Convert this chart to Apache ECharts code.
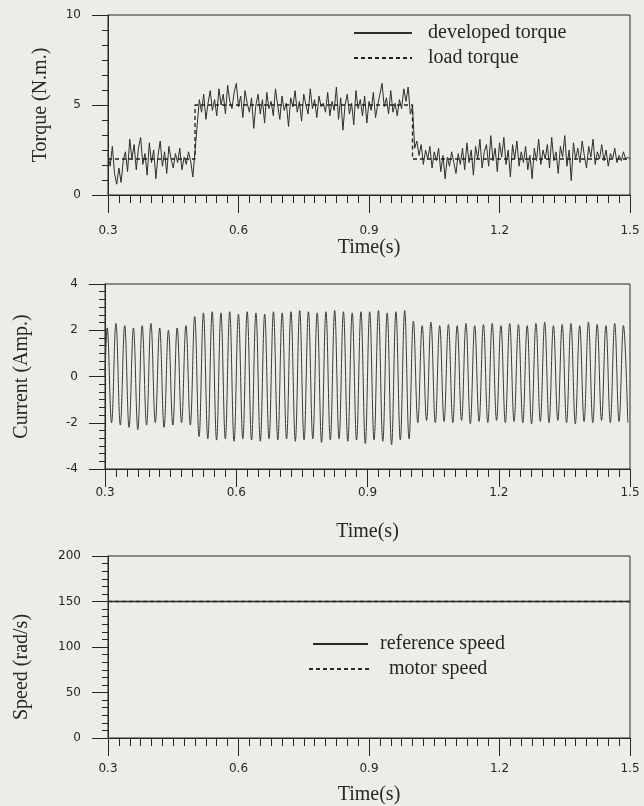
<!DOCTYPE html>
<html>
<head>
<meta charset="utf-8">
<title>Torque, current and speed</title>
<script src="https://cdn.jsdelivr.net/npm/echarts@6/dist/echarts.min.js"></script>
<style>
  html, body { margin: 0; padding: 0; background: #edece7; }
  #main { width: 644px; height: 806px; }
</style>
</head>
<body>
<div id="main"></div>
<script>
'use strict';

// time ticks shared by the three plots
var timeTicks = [0.3, 0.6, 0.9, 1.2, 1.5];

// developed torque, sampled every 0.005 s from 0.3 s to 1.5 s
var torqueStart = 0.3;
var torqueStep = 0.005;
var developedTorque = [
  // 0.300 - 0.495
  2.2, 1.6, 2.7, 1.2, 0.6, 1.5, 0.7, 1.9, 2.4, 1.3,
  3.1, 2.0, 2.8, 1.4, 2.6, 3.2, 1.7, 2.3, 1.1, 2.9,
  1.8, 2.5, 0.9, 2.2, 3.0, 1.6, 2.4, 1.2, 2.7, 2.0,
  1.5, 2.3, 1.8, 2.6, 1.4, 2.1, 1.7, 2.4, 1.9, 1.0,
  // 0.500 - 0.995
  2.4, 3.9, 5.3, 4.6, 5.6, 4.2, 5.1, 5.8, 4.7, 5.3,
  4.4, 5.9, 5.0, 5.6, 4.5, 6.1, 5.2, 4.8, 5.7, 6.2,
  4.9, 5.5, 4.3, 5.8, 5.1, 4.6, 5.4, 3.7, 5.0, 5.6,
  4.5, 5.3, 4.0, 5.7, 4.8, 5.2, 4.4, 5.9, 5.0, 4.2,
  5.5, 4.7, 5.1, 3.8, 5.4, 4.9, 5.8, 4.6, 5.2, 4.1,
  5.6, 5.0, 4.5, 5.9, 4.8, 5.3, 4.3, 5.5, 4.9, 5.1,
  4.6, 5.7, 4.4, 5.2, 4.7, 6.0, 4.2, 5.4, 3.6, 5.0,
  5.6, 4.5, 5.1, 3.9, 5.8, 4.8, 5.3, 4.4, 5.5, 4.0,
  5.2, 4.7, 5.7, 4.3, 5.0, 5.6, 6.2, 4.9, 5.4, 4.5,
  5.8, 4.6, 5.1, 4.4, 5.3, 4.8, 5.9, 5.2, 6.0, 4.5,
  // 1.000 - 1.500
  4.9, 2.6, 3.0, 2.2, 2.8, 1.7, 2.5, 2.0, 2.7, 1.5,
  2.4, 1.9, 2.6, 1.3, 2.2, 0.9, 2.1, 1.6, 2.4, 1.8,
  1.2, 2.3, 1.7, 2.6, 1.4, 2.9, 1.8, 2.5, 1.1, 2.7,
  2.0, 3.1, 1.5, 2.4, 2.8, 1.6, 3.3, 1.9, 2.6, 1.3,
  2.9, 2.1, 3.2, 1.7, 2.5, 1.0, 2.8, 2.0, 3.0, 1.6,
  2.4, 1.8, 2.7, 1.4, 2.2, 0.9, 2.6, 1.9, 3.1, 1.7,
  2.5, 2.0, 2.8, 1.5, 3.2, 1.9, 2.4, 1.2, 2.7, 2.1,
  3.3, 1.6, 2.5, 0.8, 2.9, 2.0, 2.6, 1.8, 3.0, 2.2,
  1.5, 2.7, 2.1, 3.1, 1.7, 2.4, 2.0, 2.8, 1.9, 2.5,
  1.6, 2.3, 2.0, 2.6, 1.8, 2.2, 1.9, 2.4, 2.0, 2.1,
  2.0
];

// load torque steps
var loadTime = [0.3, 0.5, 0.5, 1.0, 1.0, 1.5];
var loadTorque = [2, 2, 5, 5, 2, 2];

// phase current: one positive and one negative peak per 0.02 s cycle
var currentStart = 0.3;
var currentPeakStart = 0.305;
var currentHalfPeriod = 0.01;
var currentPeaks = [
  2.1, 2.3, 2.2, 2.1, 2.2, 2.3, 2.1, 2.0, 2.1, 2.2,
  2.6, 2.75, 2.8, 2.75, 2.8, 2.7, 2.8, 2.75, 2.7, 2.8,
  2.75, 2.8, 2.85, 2.8, 2.75, 2.8, 2.85, 2.8, 2.75, 2.8,
  2.8, 2.85, 2.75, 2.8, 2.85,
  2.4, 2.2, 2.35, 2.2, 2.25, 2.2, 2.3, 2.2, 2.25, 2.3,
  2.2, 2.3, 2.25, 2.2, 2.3, 2.35, 2.2, 2.25, 2.3, 2.2,
  2.35, 2.25, 2.2, 2.3, 2.2
];
var currentTroughs = [
  -2.0, -2.1, -2.2, -2.3, -2.1, -2.0, -2.2, -2.1, -2.0, -2.1,
  -2.6, -2.7, -2.75, -2.7, -2.8, -2.7, -2.75, -2.8, -2.7, -2.75,
  -2.7, -2.8, -2.75, -2.7, -2.85, -2.75, -2.7, -2.8, -2.75, -2.9,
  -2.75, -2.8, -2.95, -2.75, -2.7,
  -2.0, -1.9, -2.0, -1.95, -2.0, -1.9, -2.05, -1.95, -2.0, -1.9,
  -2.0, -1.95, -2.0, -2.05, -1.95, -2.0, -1.9, -2.0, -2.05, -1.95,
  -2.0, -1.9, -2.0, -1.95, -2.0
];

// speed
var speedTime = [0.3, 1.5];
var referenceSpeed = [150, 150];
var motorSpeed = [150, 150];

function pairs(xs, ys) {
  return xs.map(function (x, i) { return [x, ys[i]]; });
}

var torqueData = developedTorque.map(function (v, i) {
  return [+(torqueStart + i * torqueStep).toFixed(3), v];
});

var currentData = [[currentStart, 0]];
currentPeaks.forEach(function (p, k) {
  var t = currentPeakStart + 2 * k * currentHalfPeriod;
  currentData.push([+t.toFixed(3), p]);
  currentData.push([+(t + currentHalfPeriod).toFixed(3), currentTroughs[k]]);
});

var ink = '#262626';
var serif = 'Liberation Serif';
var sans = 'DejaVu Sans';

function timeAxis(gridIndex, labelMargin, nameGap) {
  return {
    type: 'value',
    gridIndex: gridIndex,
    min: timeTicks[0],
    max: timeTicks[timeTicks.length - 1],
    interval: 0.3,
    name: 'Time(s)',
    nameLocation: 'middle',
    nameGap: nameGap,
    nameTextStyle: { fontFamily: serif, fontSize: 20, color: ink },
    axisLine: { onZero: false, lineStyle: { color: ink, width: 1 } },
    axisTick: { inside: false, length: 18, lineStyle: { color: ink } },
    minorTick: { show: true, splitNumber: 12, length: 8, lineStyle: { color: ink } },
    axisLabel: {
      margin: labelMargin,
      fontFamily: sans,
      fontSize: 12,
      color: ink,
      formatter: function (v) { return v.toFixed(1); }
    },
    splitLine: { show: false },
    minorSplitLine: { show: false }
  };
}

function valueAxis(gridIndex, min, max, interval, name, nameGap, namePad) {
  return {
    type: 'value',
    gridIndex: gridIndex,
    min: min,
    max: max,
    interval: interval,
    name: name,
    nameLocation: 'middle',
    nameGap: nameGap,
    nameTextStyle: { fontFamily: serif, fontSize: 20, color: ink, padding: namePad || 0 },
    axisLine: { show: true, onZero: false, lineStyle: { color: ink, width: 1 } },
    axisTick: { show: true, inside: false, length: 16, lineStyle: { color: ink } },
    minorTick: { show: true, splitNumber: 6, length: 6, lineStyle: { color: ink } },
    axisLabel: { margin: 27, fontFamily: sans, fontSize: 12, color: ink },
    splitLine: { show: false },
    minorSplitLine: { show: false }
  };
}

var legendText = { fontFamily: serif, fontSize: 20, color: ink };
var noSymbol = { opacity: 0 };

var chart = echarts.init(document.getElementById('main'));
chart.setOption({
  backgroundColor: '#edece7',
  animation: false,
  grid: [
    { left: 108, right: 14, top: 15, height: 180, show: true, borderColor: ink, borderWidth: 1 },
    { left: 105, right: 14, top: 284, height: 185, show: true, borderColor: ink, borderWidth: 1 },
    { left: 108, right: 14, top: 556, height: 182, show: true, borderColor: ink, borderWidth: 1 }
  ],
  xAxis: [
    timeAxis(0, 30, 43),
    timeAxis(1, 18, 53),
    timeAxis(2, 25, 47)
  ],
  yAxis: [
    valueAxis(0, 0, 10, 5, 'Torque (N.m.)', 57),
    valueAxis(1, -4, 4, 2, 'Current (Amp.)', 73),
    valueAxis(2, 0, 200, 50, 'Speed (rad/s)', 76, [0, 40, 0, 0])
  ],
  legend: [
    {
      data: ['developed torque', 'load torque'],
      orient: 'vertical',
      left: 348,
      top: 18,
      itemWidth: 58,
      itemHeight: 14,
      itemGap: 5,
      itemStyle: noSymbol,
      textStyle: Object.assign({ padding: [0, 0, 0, 11] }, legendText)
    },
    {
      data: ['reference speed'],
      left: 307,
      top: 629,
      itemWidth: 55,
      itemHeight: 14,
      itemStyle: noSymbol,
      textStyle: Object.assign({ padding: [0, 0, 0, 7] }, legendText)
    },
    {
      data: ['motor speed'],
      left: 303,
      top: 654,
      itemWidth: 61,
      itemHeight: 14,
      itemStyle: noSymbol,
      textStyle: Object.assign({ padding: [0, 0, 0, 14] }, legendText)
    }
  ],
  series: [
    {
      name: 'developed torque',
      type: 'line',
      xAxisIndex: 0,
      yAxisIndex: 0,
      data: torqueData,
      symbol: 'none',
      lineStyle: { color: '#2e2e2e', width: 1 }
    },
    {
      name: 'load torque',
      type: 'line',
      xAxisIndex: 0,
      yAxisIndex: 0,
      data: pairs(loadTime, loadTorque),
      symbol: 'none',
      lineStyle: { color: '#1e1e1e', width: 1.3, type: [4, 3] }
    },
    {
      name: 'current',
      type: 'line',
      xAxisIndex: 1,
      yAxisIndex: 1,
      data: currentData,
      symbol: 'none',
      smooth: 0.4,
      lineStyle: { color: '#3a3a3a', width: 1 }
    },
    {
      name: 'reference speed',
      type: 'line',
      xAxisIndex: 2,
      yAxisIndex: 2,
      data: pairs(speedTime, referenceSpeed),
      symbol: 'none',
      lineStyle: { color: '#2a2a2a', width: 1.3 }
    },
    {
      name: 'motor speed',
      type: 'line',
      xAxisIndex: 2,
      yAxisIndex: 2,
      data: pairs(speedTime, motorSpeed),
      symbol: 'none',
      lineStyle: { color: '#2a2a2a', width: 1.3, type: [4, 3] }
    }
  ]
});
</script>
</body>
</html>
